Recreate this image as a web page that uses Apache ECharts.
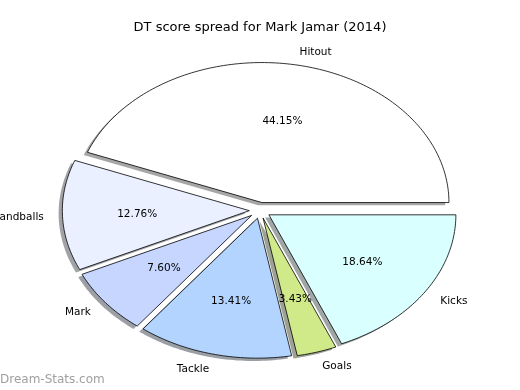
<!DOCTYPE html>
<html><head><meta charset="utf-8">
<script src="https://cdn.jsdelivr.net/npm/echarts@6/dist/echarts.min.js"></script>
<style>html,body{margin:0;padding:0;background:#fff}#c{width:520px;height:390px}</style>
</head><body><div id="c"></div>
<script>
const categories = ['Hitout','Handballs','Mark','Tackle','Goals','Kicks'];
const values = [44.15, 12.76, 7.60, 13.41, 3.43, 18.64];
const colors = ['#ffffff','#eaf0ff','#c6d6ff','#b3d4ff','#d0ea8a','#d9ffff'];
const pctLabels = ['44.15%','12.76%','7.60%','13.41%','3.43%','18.64%'];

const EXPLODE = 0.057, LABEL_R = 1.1, PCT_R = 0.6, SH_X = -0.02, SH_Y = -0.02;
const total = values.reduce((a,b)=>a+b,0);
const starts = [];
let acc = 0;
values.forEach(v=>{starts.push(acc/total*2*Math.PI); acc+=v;});

function shade(hex){
  const r=parseInt(hex.slice(1,3),16),g=parseInt(hex.slice(3,5),16),b=parseInt(hex.slice(5,7),16);
  return `rgba(${Math.round(r*0.3)},${Math.round(g*0.3)},${Math.round(b*0.3)},0.5)`;
}

const chart = echarts.init(document.getElementById('c'), null, {renderer:'canvas'});
chart.setOption({
  animation:false,
  title:{text:'DT score spread for Mark Jamar (2014)', left:'center', top:16,
    textStyle:{fontFamily:'DejaVu Sans', fontSize:13, fontWeight:'normal', color:'#000'}},
  grid:{left:73, top:70.4, width:374, height:280},
  xAxis:{type:'value', min:-1, max:1, show:false},
  yAxis:{type:'value', min:-1, max:1, show:false},
  graphic:[{type:'text', left:0, top:374, style:{text:'Dream-Stats.com', fill:'#a0a0a0',
    font:'12px "DejaVu Sans"'}}],
  series:[{
    type:'custom', clip:false,
    data: values.map((v,i)=>[i, v]),
    renderItem:function(params, api){
      const i = api.value(0);
      const a0 = starts[i], a1 = a0 + values[i]/total*2*Math.PI, am = (a0+a1)/2;
      const ox = EXPLODE*Math.cos(am), oy = EXPLODE*Math.sin(am);
      const n = Math.max(4, Math.ceil((a1-a0)/0.02));
      function pts(dx,dy){
        const p=[api.coord([ox+dx, oy+dy])];
        for(let k=0;k<=n;k++){const a=a0+(a1-a0)*k/n; p.push(api.coord([ox+dx+Math.cos(a), oy+dy+Math.sin(a)]));}
        return p;
      }
      const lp = api.coord([ox+LABEL_R*Math.cos(am), oy+LABEL_R*Math.sin(am)]);
      const pp = api.coord([ox+PCT_R*Math.cos(am), oy+PCT_R*Math.sin(am)]);
      return {type:'group', children:[
        {type:'polygon', shape:{points:pts(SH_X,SH_Y)}, style:{fill:shade(colors[i]), stroke:null}, z2:1},
        {type:'polygon', shape:{points:pts(0,0)}, style:{fill:colors[i], stroke:'#000', lineWidth:0.8, lineJoin:'miter'}, z2:2},
        {type:'text', x:lp[0], y:lp[1]+1, style:{text:categories[i], font:'10.5px "DejaVu Sans"', fill:'#000',
          align: Math.cos(am)>0?'left':'right', verticalAlign:'middle'}, z2:3},
        {type:'text', x:pp[0], y:pp[1]+1, style:{text:pctLabels[i], font:'10.5px "DejaVu Sans"', fill:'#000',
          align:'center', verticalAlign:'middle'}, z2:4}
      ]};
    }
  }]
});
</script></body></html>
